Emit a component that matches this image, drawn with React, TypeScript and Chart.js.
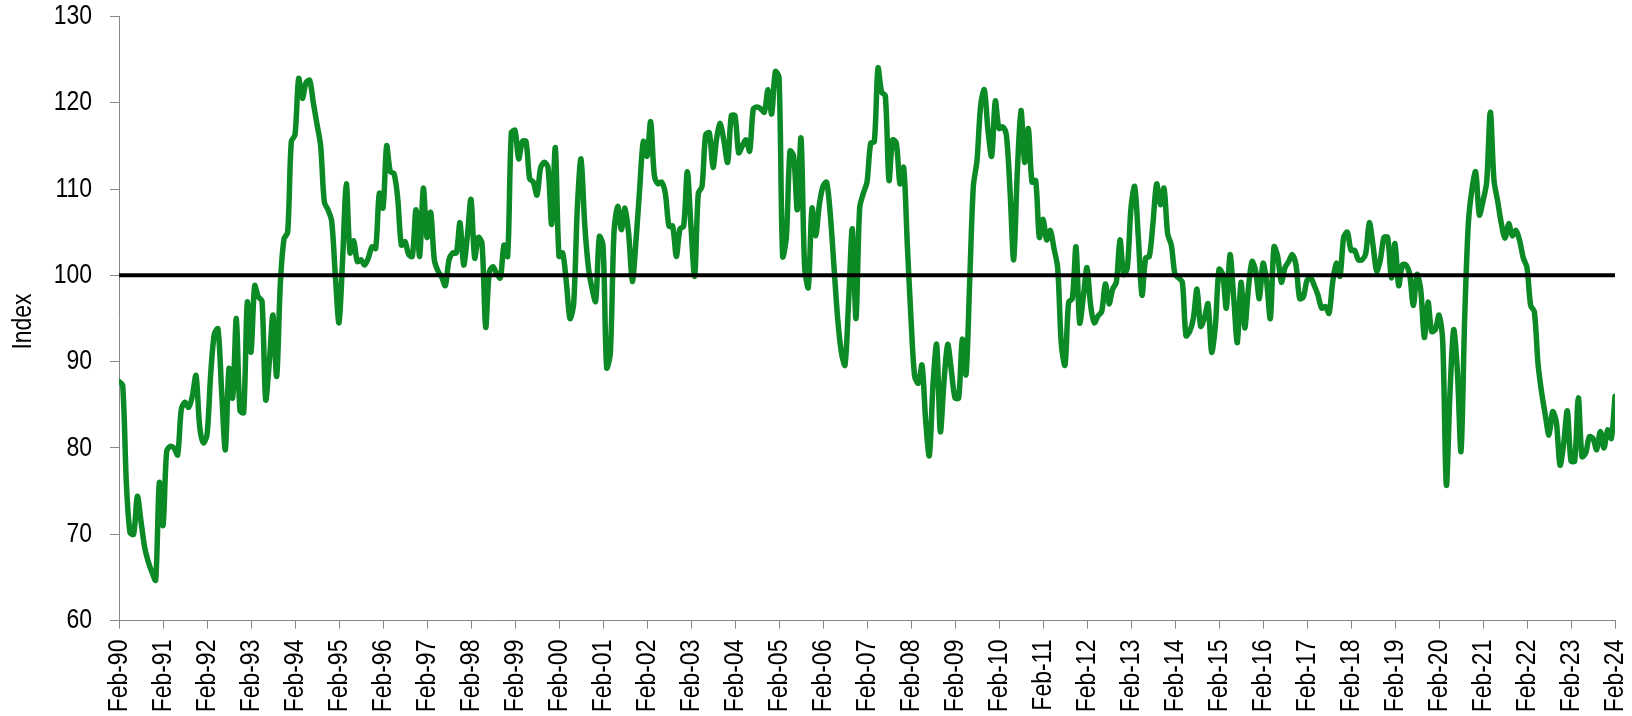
import { useEffect, useRef } from 'react';
import { Chart, registerables } from 'chart.js';

Chart.register(...registerables);

// Monthly index values, Feb of each year through Jan of the next
const y1990 = [87.7, 87.3, 76.0, 70.2, 70.0, 74.4, 71.5, 68.5, 66.8, 65.6, 64.7, 76.0];
const y1991 = [71.0, 79.6, 80.2, 80.0, 79.2, 84.5, 85.3, 84.7, 86.0, 88.4, 82.5, 80.6];
const y1992 = [81.5, 88.5, 93.2, 93.8, 86.5, 79.8, 89.2, 85.8, 95.0, 84.3, 84.1, 96.9];
const y1993 = [91.1, 98.8, 97.5, 97.0, 85.6, 90.0, 95.4, 88.3, 99.0, 104.2, 105.0, 115.5];
const y1994 = [116.3, 122.8, 120.5, 122.3, 122.6, 120.0, 117.5, 115.0, 108.5, 107.6, 106.3, 100.0];
const y1995 = [94.5, 102.0, 110.6, 102.6, 104.0, 101.6, 101.8, 101.2, 102.0, 103.3, 103.1, 109.5];
const y1996 = [107.8, 115.0, 112.0, 111.8, 109.0, 103.5, 103.9, 102.4, 102.2, 107.6, 102.2, 110.1];
const y1997 = [104.4, 107.3, 101.8, 100.5, 99.8, 98.8, 101.8, 102.6, 102.6, 106.1, 101.2, 104.5];
const y1998 = [108.8, 102.0, 104.4, 103.7, 94.0, 100.4, 101.0, 100.2, 99.7, 103.5, 102.2, 116.5];
const y1999 = [116.8, 113.5, 115.5, 115.5, 111.2, 110.8, 109.3, 112.5, 113.1, 112.5, 105.9, 114.8];
const y2000 = [102.2, 102.6, 99.2, 95.0, 96.7, 107.8, 113.5, 106.0, 101.0, 98.5, 97.0, 104.5];
const y2001 = [103.5, 89.3, 91.0, 105.0, 108.0, 105.3, 107.8, 104.8, 99.3, 104.0, 110.0, 115.5];
const y2002 = [113.8, 117.8, 111.6, 110.6, 110.8, 109.5, 105.7, 105.7, 102.2, 105.4, 105.7, 112.0];
const y2003 = [105.6, 99.9, 109.5, 110.3, 116.3, 116.5, 112.5, 115.9, 117.6, 115.5, 113.1, 118.5];
const y2004 = [118.5, 114.2, 115.0, 115.7, 114.4, 119.3, 119.5, 119.3, 118.9, 121.5, 118.7, 123.6];
const y2005 = [123.0, 102.2, 104.4, 114.4, 113.8, 107.6, 115.9, 100.9, 98.6, 107.8, 104.6, 108.2];
const y2006 = [110.3, 110.8, 107.0, 101.0, 95.0, 91.1, 89.6, 97.1, 105.4, 95.0, 107.8, 109.5];
const y2007 = [110.8, 115.3, 115.5, 124.0, 121.2, 120.8, 111.0, 115.7, 115.3, 110.6, 112.5, 103.5];
const y2008 = [95.0, 88.3, 87.5, 89.6, 83.2, 79.1, 87.3, 92.0, 81.9, 87.7, 92.0, 89.0];
const y2009 = [85.8, 85.8, 92.6, 88.5, 99.2, 110.3, 113.3, 119.7, 121.5, 116.8, 113.8, 120.2];
const y2010 = [117.0, 117.2, 116.3, 109.9, 101.8, 112.0, 119.1, 113.1, 117.0, 110.8, 111.0, 104.4];
const y2011 = [106.5, 104.1, 105.2, 103.1, 100.9, 92.0, 89.6, 96.9, 97.3, 103.3, 94.5, 97.5];
const y2012 = [100.9, 96.5, 94.5, 95.3, 95.8, 99.0, 96.7, 98.4, 99.2, 104.1, 100.1, 100.9];
const y2013 = [107.8, 110.3, 104.4, 97.7, 102.0, 102.2, 106.1, 110.6, 108.2, 110.1, 104.8, 103.5];
const y2014 = [100.1, 99.7, 99.2, 93.0, 93.5, 95.0, 98.4, 94.1, 95.0, 96.7, 91.1, 94.1];
const y2015 = [100.7, 100.1, 96.2, 102.4, 97.5, 92.2, 99.2, 93.9, 98.4, 101.6, 100.5, 97.3];
const y2016 = [101.4, 99.2, 95.0, 103.3, 102.2, 99.2, 100.9, 101.6, 102.4, 101.2, 97.3, 97.5];
const y2017 = [99.4, 99.7, 98.8, 97.7, 96.2, 96.4, 95.6, 99.2, 101.4, 99.9, 104.4, 105.0];
const y2018 = [102.9, 102.9, 101.8, 101.8, 102.5, 106.1, 103.5, 100.5, 101.8, 104.4, 104.4, 99.7];
const y2019 = [103.7, 98.8, 101.2, 101.2, 100.1, 96.5, 100.1, 98.4, 92.8, 96.9, 93.5, 93.7];
const y2020 = [95.4, 92.5, 75.7, 86.4, 93.7, 89.0, 79.6, 95.0, 106.0, 110.0, 112.0, 107.0];
const y2021 = [108.6, 110.8, 118.9, 111.0, 108.6, 106.0, 104.3, 106.0, 104.6, 105.2, 104.0, 102.0];
const y2022 = [100.9, 96.5, 95.8, 89.8, 86.4, 83.8, 81.5, 84.2, 83.0, 78.0, 80.5, 84.3];
const y2023 = [78.5, 78.5, 85.8, 79.0, 79.4, 81.3, 81.1, 79.8, 81.9, 80.0, 82.1, 81.1];
const y2024 = [86.0];

const yearLabels = [
  'Feb-90', 'Feb-91', 'Feb-92', 'Feb-93', 'Feb-94', 'Feb-95', 'Feb-96', 'Feb-97', 'Feb-98',
  'Feb-99', 'Feb-00', 'Feb-01', 'Feb-02', 'Feb-03', 'Feb-04', 'Feb-05', 'Feb-06', 'Feb-07',
  'Feb-08', 'Feb-09', 'Feb-10', 'Feb-11', 'Feb-12', 'Feb-13', 'Feb-14', 'Feb-15', 'Feb-16',
  'Feb-17', 'Feb-18', 'Feb-19', 'Feb-20', 'Feb-21', 'Feb-22', 'Feb-23', 'Feb-24',
];

const baselineValue = 100;
const yTicks = [60, 70, 80, 90, 100, 110, 120, 130];
const yTitle = 'Index';

const indexValues = [
  ...y1990, ...y1991, ...y1992, ...y1993, ...y1994, ...y1995, ...y1996, ...y1997, ...y1998,
  ...y1999, ...y2000, ...y2001, ...y2002, ...y2003, ...y2004, ...y2005, ...y2006, ...y2007,
  ...y2008, ...y2009, ...y2010, ...y2011, ...y2012, ...y2013, ...y2014, ...y2015, ...y2016,
  ...y2017, ...y2018, ...y2019, ...y2020, ...y2021, ...y2022, ...y2023, ...y2024,
];

const FONT = "'Liberation Sans', Arial, sans-serif";
const FONT_SIZE = 28;
const NARROW = 0.82; // condensed like Arial Narrow

// Draws condensed axis texts (Arial Narrow look) using the chart's scales
const narrowTextPlugin = {
  id: 'narrowText',
  afterDraw(chart: any) {
    const ctx = chart.ctx as CanvasRenderingContext2D;
    const xs = chart.scales.x;
    const ys = chart.scales.y;
    const area = chart.chartArea;
    ctx.save();
    ctx.fillStyle = '#000000';
    ctx.font = `${FONT_SIZE}px ${FONT}`;
    ctx.textBaseline = 'middle';

    // y tick labels
    ctx.textAlign = 'right';
    yTicks.forEach((v) => {
      const y = ys.getPixelForValue(v);
      ctx.save();
      ctx.translate(area.left - 27, y);
      ctx.scale(NARROW, 1);
      ctx.fillText(String(v), 0, 0);
      ctx.restore();
    });

    // x tick labels, rotated, reading bottom-to-top
    yearLabels.forEach((lab, i) => {
      const x = xs.getPixelForValue(i * 12);
      ctx.save();
      ctx.translate(x, area.bottom + 19);
      ctx.rotate(-Math.PI / 2);
      ctx.scale(NARROW, 1);
      ctx.textAlign = 'right';
      ctx.fillText(lab, 0, 0);
      ctx.restore();
    });

    // y axis title
    ctx.save();
    ctx.translate(23, (area.top + area.bottom) / 2 + 3);
    ctx.rotate(-Math.PI / 2);
    ctx.scale(NARROW, 1);
    ctx.textAlign = 'center';
    ctx.fillText(yTitle, 0, 0);
    ctx.restore();

    ctx.restore();
  },
};

export default function App() {
  const ref = useRef<HTMLCanvasElement>(null);

  useEffect(() => {
    const lastIdx = indexValues.length - 1;
    const points = indexValues.map((v, i) => ({ x: i, y: v }));
    const chart = new Chart(ref.current as HTMLCanvasElement, {
      type: 'line',
      data: {
        datasets: [
          {
            label: 'Baseline',
            data: [
              { x: 0, y: baselineValue },
              { x: lastIdx, y: baselineValue },
            ],
            borderColor: '#000000',
            borderWidth: 4,
            pointRadius: 0,
            order: 0,
          },
          {
            label: 'Index',
            data: points,
            borderColor: '#0B8A25',
            borderWidth: 5.5,
            pointRadius: 0,
            tension: 0.3,
            borderJoinStyle: 'round',
            borderCapStyle: 'round',
            order: 1,
          },
        ],
      },
      plugins: [narrowTextPlugin],
      options: {
        responsive: false,
        animation: false,
        layout: { padding: { top: 16.4, right: 17, left: 0, bottom: 0 } },
        plugins: { legend: { display: false }, tooltip: { enabled: false } },
        scales: {
          x: {
            type: 'linear',
            min: 0,
            max: lastIdx,
            afterBuildTicks: (s: any) => {
              s.ticks = yearLabels.map((_, i) => ({ value: i * 12 }));
            },
            afterFit: (s: any) => {
              s.height = 95.4;
              s.paddingLeft = 0;
              s.paddingRight = 0;
            },
            ticks: { display: false, autoSkip: false },
            grid: { drawOnChartArea: false, drawTicks: true, tickLength: 8, color: '#888888', lineWidth: 1 },
            border: { display: true, color: '#888888', width: 1 },
          },
          y: {
            min: 60,
            max: 130,
            afterBuildTicks: (s: any) => {
              s.ticks = yTicks.map((v) => ({ value: v }));
            },
            afterFit: (s: any) => {
              s.width = 119;
              s.paddingTop = 0;
              s.paddingBottom = 0;
            },
            ticks: { display: false },
            title: { display: false },
            grid: { drawOnChartArea: false, drawTicks: true, tickLength: 9, color: '#888888', lineWidth: 1 },
            border: { display: true, color: '#888888', width: 1 },
          },
        },
      },
    } as any);
    return () => chart.destroy();
  }, []);

  return (
    <div style={{ position: 'absolute', left: 0, top: 0, width: 1632, height: 716 }}>
      <canvas ref={ref} width={1632} height={716} style={{ display: 'block' }} />
    </div>
  );
}
